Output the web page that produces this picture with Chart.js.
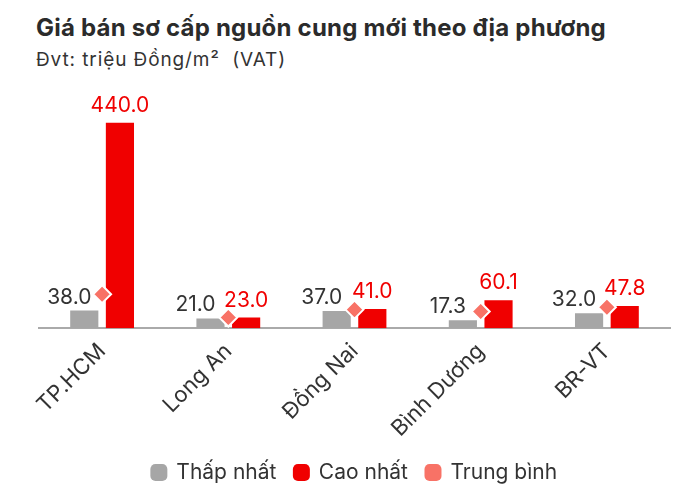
<!DOCTYPE html>
<html>
<head>
<meta charset="utf-8">
<script src="https://cdn.jsdelivr.net/npm/chart.js@4"></script>
<style>
  body { margin: 0; background: #fff; font-family: Inter, "Noto Sans", sans-serif; }
  #wrap { position: relative; width: 700px; height: 493px; }
  #tieuDe { position: absolute; left: 36px; top: 13px; font-size: 24px; font-weight: 700; color: #2b2b2b; letter-spacing: 0.2px; }
  #phuDe { position: absolute; left: 36px; top: 48px; font-size: 19px; color: #333; letter-spacing: 0.9px; }
  canvas { position: absolute; left: 0; top: 0; }
</style>
</head>
<body>
<div id="wrap">
  <div id="tieuDe">Giá bán sơ cấp nguồn cung mới theo địa phương</div>
  <div id="phuDe">Đvt: triệu Đồng/m²&nbsp; (VAT)</div>
  <canvas id="grafica" width="700" height="493"></canvas>
</div>
<script>
const diaPhuong = ['TP.HCM', 'Long An', 'Đồng Nai', 'Bình Dương', 'BR-VT'];
const thapNhat = [38.0, 21.0, 37.0, 17.3, 32.0];
const caoNhat = [440.0, 23.0, 41.0, 60.1, 47.8];
const trungBinh = [73, 23, 40, 36, 45];

// ve so len tren cot
const nhanCot = {
    id: 'nhanCot',
    afterDatasetsDraw(chart) {
        const ctx = chart.ctx;
        ctx.save();
        ctx.font = '21px Inter, "Noto Sans", sans-serif';
        ctx.textAlign = 'center';
        ctx.textBaseline = 'alphabetic';
        chart.getDatasetMeta(0).data.forEach((bar, i) => {
            ctx.fillStyle = '#333333';
            ctx.fillText(thapNhat[i].toFixed(1), bar.x - 15, bar.y - 7);
        });
        chart.getDatasetMeta(1).data.forEach((bar, i) => {
            ctx.fillStyle = '#f00000';
            ctx.fillText(caoNhat[i].toFixed(1), bar.x, bar.y - 11);
        });
        ctx.restore();
    }
};

const ctx = document.getElementById('grafica').getContext('2d');
const myChart = new Chart(ctx, {
    data: {
        labels: diaPhuong,
        datasets: [
            {
                type: 'bar',
                label: 'Thấp nhất',
                data: thapNhat,
                backgroundColor: '#a6a6a6',
                categoryPercentage: 0.565,
                barPercentage: 0.79,
                order: 2
            },
            {
                type: 'bar',
                label: 'Cao nhất',
                data: caoNhat,
                backgroundColor: '#f00000',
                categoryPercentage: 0.565,
                barPercentage: 0.79,
                order: 2
            },
            {
                type: 'line',
                label: 'Trung bình',
                data: trungBinh,
                showLine: false,
                pointStyle: 'rectRot',
                pointRadius: 9,
                pointHoverRadius: 9,
                backgroundColor: '#f87266',
                pointBackgroundColor: '#f87266',
                pointBorderColor: '#ffffff',
                pointBorderWidth: 2,
                order: 1
            }
        ]
    },
    options: {
        responsive: false,
        animation: false,
        layout: { padding: { top: 90, left: 39, right: 30, bottom: 0 } },
        plugins: {
            tooltip: { enabled: false },
            legend: {
                position: 'bottom',
                labels: {
                    usePointStyle: true,
                    pointStyle: 'rectRounded',
                    boxHeight: 14,
                    boxWidth: 14,
                    padding: 18,
                    color: '#333333',
                    font: { size: 21, family: 'Inter, "Noto Sans", sans-serif' },
                    generateLabels(chart) {
                        const cols = ['#a6a6a6', '#f00000', '#f87266'];
                        return chart.data.datasets.map((ds, i) => ({
                            text: ds.label,
                            fillStyle: cols[i],
                            strokeStyle: cols[i],
                            lineWidth: 0,
                            pointStyle: 'rectRounded',
                            datasetIndex: i,
                            fontColor: '#333333'
                        }));
                    }
                }
            }
        },
        scales: {
            x: {
                grid: { display: false },
                border: { display: true, color: '#aaaaaa', width: 2 },
                ticks: {
                    color: '#333333',
                    maxRotation: 45,
                    minRotation: 45,
                    padding: 2,
                    font: { size: 22, family: 'Inter, "Noto Sans", sans-serif' }
                }
            },
            y: {
                display: false,
                min: 0,
                max: 510
            }
        }
    },
    plugins: [nhanCot]
});
</script>
</body>
</html>
